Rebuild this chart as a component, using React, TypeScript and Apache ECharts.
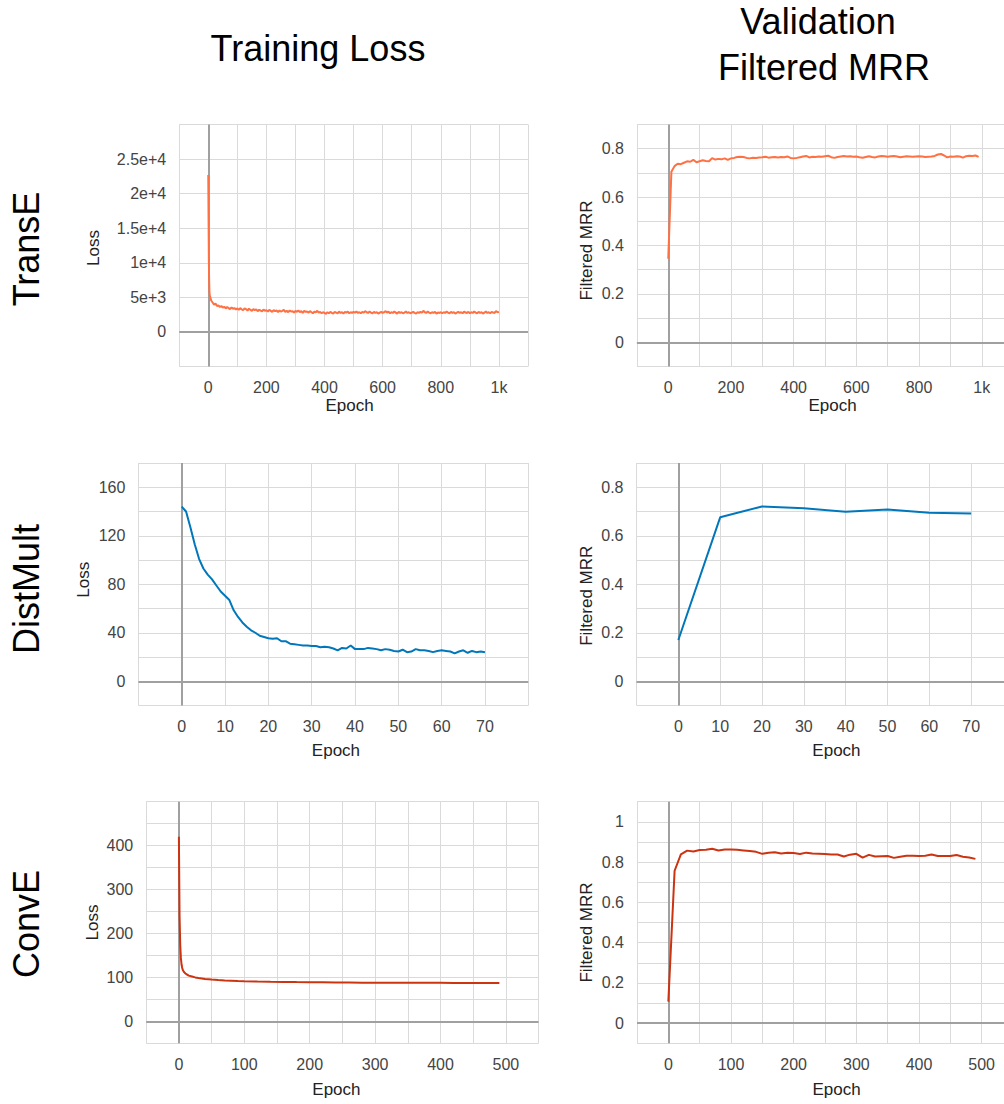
import React, { useEffect, useRef } from "react";
import * as echarts from "echarts";

const FONT = '"Liberation Sans", Arial, Helvetica, sans-serif';
const GRID_COLOR = "#dadada";
const ZERO_COLOR = "#a0a0a0";
const LABEL_COLOR = "#444";
const NAME_COLOR = "#222";

// ---------- TransE ----------
const transeLossHeadEpochs = [0, 1, 2, 3, 4];
const transeLossHeadValues = [22700, 16500, 10500, 7400, 5900];
const transeLossTailStart = 5;
const transeLossTailStep = 5;
const transeLossTailValues = [
  5300, 4550, 4250, 3950, 4100, 3750, 3850, 3600, 3750, 3500, 3650, 3400, 3600, 3450, 3300, 3550, 3350, 3450, 3250, 3400,
  3200, 3450, 3250, 3150, 3400, 3300, 3100, 3350, 3200, 3050, 3300, 3150, 3250, 3000, 3200, 3100, 2950, 3250, 3050, 3150,
  2950, 3200, 3050, 2900, 3150, 3000, 3100, 2850, 3100, 2950, 3050, 3200, 2900, 3050, 2850, 3100, 2950, 3000, 2800, 3050,
  2900, 3100, 2850, 3000, 2750, 3050, 2900, 2950, 2800, 3000, 2850, 2700, 2950, 2850, 3050, 2800, 2900, 2700, 2850, 2750,
  2600, 2850, 2700, 2900, 2750, 2650, 2900, 2800, 2700, 2950, 2750, 2850, 2650, 2900, 2800, 2950, 2700, 2850, 2750, 2900,
  2800, 2950, 2750, 2850, 2700, 2900, 2800, 3000, 2850, 2750, 2950, 2800, 2700, 2900, 2750, 2850, 2650, 2800, 2900, 2750,
  2850, 3000, 2800, 2950, 2700, 2850, 2750, 2950, 2800, 2650, 2900, 2750, 2850, 2700, 2800, 2950, 2750, 2850, 2700, 2800,
  2900, 2750, 2650, 2850, 2750, 2900, 2800, 3050, 2850, 2750, 2950, 2800, 2700, 2850, 2750, 2900, 2650, 2800, 2750, 2850,
  2700, 2850, 2750, 2950, 2800, 2700, 2900, 2750, 2850, 2650, 2800, 2900, 2750, 2850, 2700, 2950, 2800, 2750, 2900, 2700,
  2850, 2750, 2950, 2800, 2700, 2900, 2750, 2850, 2650, 2800, 2950, 2750, 2850, 2700, 2900, 2800, 2750, 3000, 2850, 2900,
];
const transeMrrStep = 10;
const transeMrrValues = [
  0.345, 0.705, 0.728, 0.738, 0.736, 0.742, 0.748, 0.746, 0.754, 0.744,
  0.748, 0.752, 0.749, 0.748, 0.761, 0.755, 0.758, 0.756, 0.76, 0.754,
  0.76, 0.762, 0.766, 0.767, 0.766, 0.762, 0.76, 0.763, 0.762, 0.764,
  0.765, 0.767, 0.763, 0.765, 0.766, 0.764, 0.766, 0.765, 0.768, 0.762,
  0.76, 0.762, 0.765, 0.768, 0.77, 0.764, 0.767, 0.766, 0.768, 0.767,
  0.769, 0.771, 0.765, 0.762, 0.766, 0.768, 0.77, 0.768, 0.769, 0.767,
  0.768, 0.765, 0.763, 0.766, 0.769, 0.766, 0.764, 0.768, 0.77, 0.769,
  0.767, 0.769, 0.77, 0.768, 0.765, 0.767, 0.769, 0.768, 0.767, 0.768,
  0.769, 0.768, 0.766, 0.767, 0.768, 0.77, 0.776, 0.778, 0.772, 0.764,
  0.768, 0.767, 0.769, 0.768, 0.763, 0.769, 0.771, 0.77, 0.772, 0.766,
];

// ---------- DistMult ----------
const distLossValues = [
  144, 140, 127, 113, 101, 93, 88, 84, 79, 74,
  70.5, 67, 58.5, 53, 48.5, 45, 42, 40, 37.5, 36.5,
  35.5, 35, 35.5, 33, 33, 31, 30.5, 30, 29.5, 29.5,
  29, 29, 28, 28.5, 28, 27, 25.5, 27.5, 27, 29.5,
  26.5, 26.5, 26.5, 27.5, 27, 26.5, 25.5, 26.5, 26, 25,
  24.5, 26, 24, 24.5, 26.5, 25.5, 25.5, 25, 24, 25,
  25.5, 25, 24.5, 23, 24.5, 25.5, 23.5, 25, 24, 24.5,
  24,
];
const distMrrEpochs = [0, 10, 20, 30, 40, 50, 60, 70];
const distMrrValues = [0.17, 0.676, 0.721, 0.713, 0.699, 0.708, 0.695, 0.692];

// ---------- ConvE ----------
const conveLossEpochs = [
  0, 1, 2, 3, 4, 5, 6, 8, 10, 12, 15, 20, 25, 30, 40, 50, 60, 70, 80, 90, 100,
  120, 140, 160, 180, 200, 220, 240, 260, 280, 300, 320, 340, 360, 380, 400,
  420, 440, 460, 480, 490,
];
const conveLossValues = [
  420, 240, 175, 145, 130, 122, 117, 112, 109, 107, 104, 102, 100, 98.5, 96.5, 95, 94, 93.2, 92.5, 91.8, 91.2,
  90.6, 90.1, 89.7, 89.3, 89, 88.8, 88.5, 88.3, 88.1, 88, 87.9, 87.8, 87.7, 87.6, 87.6,
  87.5, 87.4, 87.4, 87.3, 87.3,
];
const conveMrrStep = 10;
const conveMrrValues = [
  0.107, 0.757, 0.838, 0.857, 0.853, 0.86, 0.861, 0.866, 0.858, 0.863,
  0.862, 0.861, 0.858, 0.855, 0.851, 0.841, 0.846, 0.849, 0.843, 0.847,
  0.845, 0.84, 0.847, 0.843, 0.842, 0.84, 0.838, 0.838, 0.828, 0.837,
  0.841, 0.822, 0.836, 0.828, 0.829, 0.83, 0.821, 0.827, 0.832, 0.831,
  0.83, 0.832, 0.838, 0.83, 0.83, 0.83, 0.835, 0.827, 0.823, 0.816,
];

// ---------- Tick labels ----------
const transeXTicks = [0, 200, 400, 600, 800, 1000];
const transeXTickText = ["0", "200", "400", "600", "800", "1k"];
const transeLossYTicks = [0, 5000, 10000, 15000, 20000, 25000];
const transeLossYTickText = ["0", "5e+3", "1e+4", "1.5e+4", "2e+4", "2.5e+4"];
const mrrYTicks = [0, 0.2, 0.4, 0.6, 0.8];
const mrrYTickText = ["0", "0.2", "0.4", "0.6", "0.8"];
const conveMrrYTicks = [0, 0.2, 0.4, 0.6, 0.8, 1];
const conveMrrYTickText = ["0", "0.2", "0.4", "0.6", "0.8", "1"];
const distXTicks = [0, 10, 20, 30, 40, 50, 60, 70];
const distXTickText = ["0", "10", "20", "30", "40", "50", "60", "70"];
const distLossYTicks = [0, 40, 80, 120, 160];
const distLossYTickText = ["0", "40", "80", "120", "160"];
const conveXTicks = [0, 100, 200, 300, 400, 500];
const conveXTickText = ["0", "100", "200", "300", "400", "500"];
const conveLossYTicks = [0, 100, 200, 300, 400];
const conveLossYTickText = ["0", "100", "200", "300", "400"];

const rowLabels = ["TransE", "DistMult", "ConvE"];
const colTitles = ["Training Loss", "Validation", "Filtered MRR"];

function fmt(ticks: number[], texts: string[]) {
  const span = Math.max(...ticks.map((t) => Math.abs(t))) || 1;
  return (v: number) => {
    for (let i = 0; i < ticks.length; i++) {
      if (Math.abs(v - ticks[i]) < span * 1e-6) return texts[i];
    }
    return "";
  };
}

function buildData() {
  const transeLoss: number[][] = transeLossHeadEpochs.map((e, i) => [e, transeLossHeadValues[i]]);
  transeLossTailValues.forEach((v, i) => transeLoss.push([transeLossTailStart + i * transeLossTailStep, v]));
  const transeMrr = transeMrrValues.map((v, i) => [i * transeMrrStep, v]);
  const distLoss = distLossValues.map((v, i) => [i, v]);
  const distMrr = distMrrEpochs.map((e, i) => [e, distMrrValues[i]]);
  const conveLoss = conveLossEpochs.map((e, i) => [e, conveLossValues[i]]);
  const conveMrr = conveMrrValues.map((v, i) => [i * conveMrrStep, v]);
  return { transeLoss, transeMrr, distLoss, distMrr, conveLoss, conveMrr };
}

function padX(shift: number) {
  return shift >= 0 ? [0, 0, 0, 2 * shift] : [0, -2 * shift, 0, 0];
}
function padY(down: number) {
  return down >= 0 ? [0, 2 * down, 0, 0] : [0, 0, 0, -2 * down];
}

const CANVAS_W = 1040;
const CANVAS_H = 1104;

function buildOption() {
  const d = buildData();
  const panels = [
    {
      grid: { left: 179.2, top: 124.5, width: 348.8, height: 242 },
      x: { min: -100, max: 1100, interval: 100, ticks: transeXTicks, text: transeXTickText, gap: 30, shift: -4 },
      y: { min: -5000, max: 30000, interval: 5000, ticks: transeLossYTicks, text: transeLossYTickText, name: "Loss", gap: 77, shift: 2.5 },
      data: d.transeLoss, color: "#ff7043", width: 2,
    },
    {
      grid: { left: 636.9, top: 124.5, width: 376.2, height: 242 },
      x: { min: -100, max: 1100, interval: 100, ticks: transeXTicks, text: transeXTickText, gap: 30, shift: 7.5 },
      y: { min: -0.1, max: 0.9, interval: 0.1, ticks: mrrYTicks, text: mrrYTickText, name: "Filtered MRR", gap: 42, shift: 5 },
      data: d.transeMrr, color: "#ff7043", width: 2,
    },
    {
      grid: { left: 138.4, top: 463, width: 389.9, height: 242.5 },
      x: { min: -10, max: 80, interval: 10, ticks: distXTicks, text: distXTickText, gap: 36.5, shift: 2.6 },
      y: { min: -20, max: 180, interval: 20, ticks: distLossYTicks, text: distLossYTickText, name: "Loss", gap: 46, shift: -4.5 },
      data: d.distLoss, color: "#0077bb", width: 2,
    },
    {
      grid: { left: 636.5, top: 463, width: 376.5, height: 242.5 },
      x: { min: -10, max: 80, interval: 10, ticks: distXTicks, text: distXTickText, gap: 36.5, shift: 11.7 },
      y: { min: -0.1, max: 0.9, interval: 0.1, ticks: mrrYTicks, text: mrrYTickText, name: "Filtered MRR", gap: 41.5, shift: 11.5 },
      data: d.distMrr, color: "#0077bb", width: 2,
    },
    {
      grid: { left: 146.2, top: 801.7, width: 392.4, height: 241.6 },
      x: { min: -50, max: 550, interval: 50, ticks: conveXTicks, text: conveXTickText, gap: 38, shift: -6 },
      y: { min: -50, max: 500, interval: 50, ticks: conveLossYTicks, text: conveLossYTickText, name: "Loss", gap: 45, shift: 0 },
      data: d.conveLoss, color: "#cc3311", width: 2,
    },
    {
      grid: { left: 637, top: 801.7, width: 376, height: 241.6 },
      x: { min: -50, max: 550, interval: 50, ticks: conveXTicks, text: conveXTickText, gap: 38, shift: 11.5 },
      y: { min: -0.1, max: 1.1, interval: 0.1, ticks: conveMrrYTicks, text: conveMrrYTickText, name: "Filtered MRR", gap: 42, shift: 10 },
      data: d.conveMrr, color: "#cc3311", width: 2,
    },
  ];

  const commonAxis = {
    type: "value" as const,
    axisLine: { show: false },
    axisTick: { show: true, length: 6, lineStyle: { color: GRID_COLOR, width: 1 } },
    splitLine: { show: true, lineStyle: { color: GRID_COLOR, width: 1 } },
  };

  const headingStyle = { fontFamily: FONT, fontSize: 36, fill: "#000" };

  const graphic: any[] = [
    { type: "text", x: 318, y: 48.5, style: { ...headingStyle, text: colTitles[0], align: "center", verticalAlign: "middle", textAlign: "center", textVerticalAlign: "middle" } },
    { type: "text", x: 818, y: 21.7, style: { ...headingStyle, text: colTitles[1], align: "center", verticalAlign: "middle", textAlign: "center", textVerticalAlign: "middle" } },
    { type: "text", x: 824, y: 67.3, style: { ...headingStyle, text: colTitles[2], align: "center", verticalAlign: "middle", textAlign: "center", textVerticalAlign: "middle" } },
  ];
  const rowCenters = [249, 589, 924];
  rowLabels.forEach((t, i) => {
    graphic.push({
      type: "text",
      x: 26,
      y: rowCenters[i],
      rotation: Math.PI / 2,
      style: { ...headingStyle, text: t, align: "center", verticalAlign: "middle", textAlign: "center", textVerticalAlign: "middle" },
    });
  });

  return {
    animation: false,
    backgroundColor: "#fff",
    textStyle: { fontFamily: FONT },
    grid: panels.map((p) => ({ ...p.grid, containLabel: false })),
    xAxis: panels.map((p, i) => ({
      ...commonAxis,
      gridIndex: i,
      min: p.x.min,
      max: p.x.max,
      interval: p.x.interval,
      axisLabel: { formatter: fmt(p.x.ticks, p.x.text), margin: 13, fontSize: 16, color: LABEL_COLOR, fontFamily: FONT, showMinLabel: true, showMaxLabel: true },
      name: "Epoch",
      nameLocation: "middle",
      nameGap: p.x.gap,
      nameTextStyle: { fontSize: 17, color: NAME_COLOR, fontFamily: FONT, padding: padX(p.x.shift) },
    })),
    yAxis: panels.map((p, i) => ({
      ...commonAxis,
      gridIndex: i,
      min: p.y.min,
      max: p.y.max,
      interval: p.y.interval,
      axisLabel: { formatter: fmt(p.y.ticks, p.y.text), margin: 13, fontSize: 16, color: LABEL_COLOR, fontFamily: FONT, showMinLabel: true, showMaxLabel: true },
      name: p.y.name,
      nameLocation: "middle",
      nameGap: p.y.gap,
      nameTextStyle: { fontSize: 17, color: NAME_COLOR, fontFamily: FONT, padding: padY(p.y.shift) },
    })),
    series: panels.map((p, i) => ({
      type: "line",
      xAxisIndex: i,
      yAxisIndex: i,
      data: p.data,
      showSymbol: false,
      symbol: "none",
      silent: true,
      z: 5,
      lineStyle: { color: p.color, width: p.width },
      itemStyle: { color: p.color },
      markLine: {
        silent: true,
        z: 1,
        symbol: ["none", "none"],
        label: { show: false },
        lineStyle: { color: ZERO_COLOR, width: 2, type: "solid" },
        data: [{ xAxis: 0 }, { yAxis: 0 }],
      },
    })),
    graphic,
  };
}

export default function App() {
  const ref = useRef<HTMLDivElement>(null);
  useEffect(() => {
    if (!ref.current) return;
    const chart = echarts.init(ref.current, null, { renderer: "svg", width: CANVAS_W, height: CANVAS_H });
    chart.setOption(buildOption() as any);
    return () => chart.dispose();
  }, []);
  return (
    <div
      style={{ position: "absolute", left: 0, top: 0, width: 1004, height: 1104, overflow: "hidden", background: "#fff" }}
    >
      <div ref={ref} style={{ width: CANVAS_W, height: CANVAS_H }} />
    </div>
  );
}
